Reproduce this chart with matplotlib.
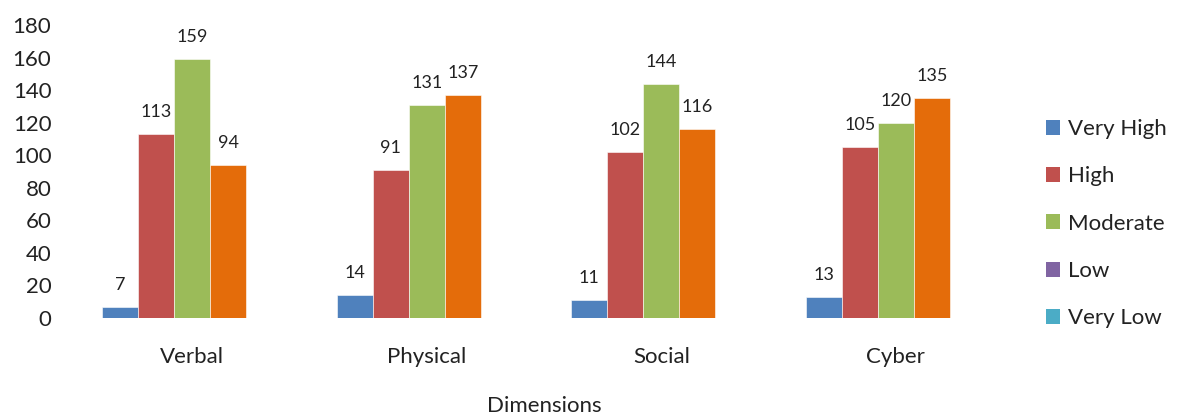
import numpy as np
import matplotlib.pyplot as plt
from matplotlib.patches import Patch

plt.rcParams['font.family'] = ['Lato', 'DejaVu Sans']

categories = ['Verbal', 'Physical', 'Social', 'Cyber']
very_high = [7, 14, 11, 13]
high = [113, 91, 102, 105]
moderate = [159, 131, 144, 120]
low = [94, 137, 116, 135]
very_low = [0, 0, 0, 0]

series = [very_high, high, moderate, low]
bar_colors = ['#4F81BD', '#C0504D', '#9BBB59', '#E46C0A']
legend_names = ['Very High', 'High', 'Moderate', 'Low', 'Very Low']
legend_colors = ['#4F81BD', '#C0504D', '#9BBB59', '#8064A2', '#4BACC6']

fig = plt.figure(figsize=(11.86, 4.15), dpi=100)
ax = fig.add_axes([75/1186, 97/415, 938/1186, 293/415])

n_slots = 5
w = 1 / (n_slots + 1.5)
x = np.arange(len(categories))
for i, (vals, c) in enumerate(zip(series, bar_colors)):
    pos = x - 0.5 + 0.75 * w + (i + 0.5) * w
    bars = ax.bar(pos, vals, width=w, color=c, edgecolor='white', linewidth=0.4)
    for b, v in zip(bars, vals):
        ax.annotate(str(v), (b.get_x() + b.get_width() / 2, v),
                    xytext=(0, 10), textcoords='offset points',
                    ha='center', va='bottom', fontsize=13, color='#222222')

ax.set_xlim(-0.5, len(categories) - 0.5)
ax.set_ylim(0, 180)
ax.set_yticks(range(0, 181, 20))
ax.set_xticks(x)
ax.set_xticklabels(categories)
for s in ax.spines.values():
    s.set_visible(False)
ax.tick_params(axis='y', length=0, pad=17, labelsize=16, labelcolor='#222222')
ax.tick_params(axis='x', length=0, pad=21, labelsize=16, labelcolor='#222222')
ax.set_xlabel('Dimensions', fontsize=16, color='#222222', labelpad=21)

handles = [Patch(facecolor=c, edgecolor='none') for c in legend_colors]
fig.legend(handles, legend_names, loc='upper left',
           bbox_to_anchor=(1046/1186, 1 - 119/415), frameon=False,
           fontsize=16, handlelength=0.65, handleheight=0.65,
           handletextpad=0.35, labelspacing=1.23, borderpad=0,
           borderaxespad=0, labelcolor='#222222')

fig.savefig('out.png', dpi=100)
